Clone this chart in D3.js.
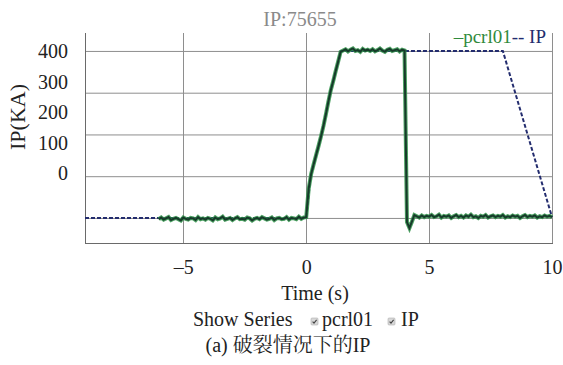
<!DOCTYPE html>
<html>
<head>
<meta charset="utf-8">
<script src="https://cdn.jsdelivr.net/npm/d3@7"></script>
<style>
  html, body { margin: 0; padding: 0; background: #fff; }
  svg { display: block; }
  svg text { font-family: "Liberation Serif", "Noto Serif CJK SC", "Noto Sans CJK SC", serif; }
</style>
</head>
<body>
<svg id="chart" width="563" height="365"></svg>
<script>
// Shot number and series
const shotTitle = "IP:75655";
const seriesNames = ["pcrl01", "IP"];
const seriesColors = ["#2f8a3c", "#232c6e"];

// Measured plasma current pcrl01 (kA), sampled every 0.1 s from -6.0 s to 10.0 s
const pcrlStart = -6.0;
const pcrlStep = 0.1;
const pcrlValues = [
  // -6.0 .. -0.1
  -3, 1, -4, -1, 2, -5, -2, 0, -3, -6,
  1, -2, -4, 0, -1, -5, 2, -3, -1, -4,
  0, -2, -6, 1, -3, -1, 3, -4, -2, 0,
  -5, -1, 2, -3, -2, -4, 1, -1, -6, -2,
  0, -3, 2, -1, -4, -2, 1, -5, -1, 0,
  -3, -2, 2, -4, 0, -1, -3, 3, -2, 1,
  // 0.0 .. 1.4 ramp-up
  2, 70, 105, 128, 150, 172, 195, 220, 248, 278, 306, 328, 352, 375, 398,
  // 1.5 .. 4.0 flat-top
  401, 404, 399, 403, 406, 400, 402, 398, 405, 401,
  403, 400, 404, 399, 402, 406, 401, 398, 403, 405,
  400, 402, 404, 399, 403, 401,
  // 4.1 .. 10.0 after the disruption
  -10, -24, -9, 7, 4, 1, 6, 2, 5, 3,
  7, 2, 4, 8, 1, 5, 3, 6, 0, 4,
  7, 2, 5, 1, 6, 3, 8, 2, 4, 0,
  5, 3, 7, 1, 4, 6, 2, 5, 3, 7,
  1, 4, 2, 6, 3, 5, 0, 4, 7, 2,
  5, 3, 6, 1, 4, 2, 6, 3, 5, 2
];

// Preset plasma current waveform IP (kA)
const ipTimes  = [-9, 0, 0.18, 0.63, 0.97, 1.42, 8.0, 10.0];
const ipValues = [0, 0, 100, 200, 300, 400, 400, 2];

// Axis ticks
const xTicks = [-5, 0, 5, 10];
const yTicks = [0, 100, 200, 300, 400];
const yTickLabels = ["0", "100", "200", "300", "400"];

const xLabel = "Time (s)";
const yLabel = "IP(KA)";
const toggleLabel = "Show Series";
const caption = "(a) 破裂情况下的IP";

const svg = d3.select("#chart");
const plot = { left: 85, right: 552, top: 33, bottom: 243 };

const x = d3.scaleLinear().domain([-9, 10]).range([plot.left, plot.right]);
const y = d3.scaleLinear().domain([-60, 443]).range([plot.bottom, plot.top]);
// tick text sits on its own, tighter scale beside the grid
const yText = d3.scaleLinear().domain([0, 400]).range([173, 51.5]);

// grid
const grid = svg.append("g");
grid.selectAll("line.h").data(yTicks).join("line")
  .attr("x1", plot.left).attr("x2", plot.right)
  .attr("y1", d => y(d) + 0.5).attr("y2", d => y(d) + 0.5)
  .attr("stroke", "#8e8e8e").attr("stroke-width", 1);
grid.selectAll("line.v").data(xTicks.concat([0])).join("line")
  .attr("x1", d => Math.round(x(d)) + 0.5).attr("x2", d => Math.round(x(d)) + 0.5)
  .attr("y1", plot.top).attr("y2", plot.bottom)
  .attr("stroke", "#8e8e8e").attr("stroke-width", 1);

// frame: left and bottom
svg.append("line")
  .attr("x1", plot.left + 0.5).attr("x2", plot.left + 0.5)
  .attr("y1", plot.top).attr("y2", plot.bottom)
  .attr("stroke", "#6a6a6a");
svg.append("line")
  .attr("x1", plot.left).attr("x2", plot.right + 1)
  .attr("y1", plot.bottom + 0.5).attr("y2", plot.bottom + 0.5)
  .attr("stroke", "#6a6a6a");

// y tick labels
const yAxis = d3.axisLeft(yText).tickValues(yTicks)
  .tickFormat((d, i) => yTickLabels[i]).tickSize(0).tickPadding(0);
const yg = svg.append("g").attr("transform", "translate(68,0)").call(yAxis);
yg.select(".domain").remove();
yg.selectAll("text").attr("font-size", 20).attr("fill", "#222");

// x tick labels
const xAxis = d3.axisBottom(x).tickValues(xTicks).tickFormat(d3.format("d"))
  .tickSize(0).tickPadding(0);
const xg = svg.append("g").attr("transform", `translate(0,${plot.bottom + 17})`).call(xAxis);
xg.select(".domain").remove();
xg.selectAll("text").attr("font-size", 20).attr("fill", "#222")
  .text(d => d < 0 ? "\u2013" + Math.abs(d) : d);

// series
const pcrlData = pcrlValues.map((v, i) => [pcrlStart + i * pcrlStep, v]);
const ipData = ipTimes.map((t, i) => [t, ipValues[i]]);
const line = d3.line().x(d => x(d[0])).y(d => y(d[1]));

svg.append("path").datum(ipData).attr("d", line)
  .attr("fill", "none").attr("stroke", seriesColors[1])
  .attr("stroke-width", 2).attr("stroke-dasharray", "4,2");

svg.append("path").datum(pcrlData).attr("d", line)
  .attr("fill", "none").attr("stroke", "#2e9048").attr("stroke-opacity", 0.85)
  .attr("stroke-width", 4);
svg.append("path").datum(pcrlData).attr("d", line)
  .attr("fill", "none").attr("stroke", "#173a2a")
  .attr("stroke-width", 2);

// title
svg.append("text").attr("x", 300).attr("y", 26).attr("text-anchor", "middle")
  .attr("font-size", 20).attr("fill", "#8a8a8a").text(shotTitle);

// legend (top right)
const legend = svg.append("text").attr("x", 546).attr("y", 43)
  .attr("text-anchor", "end").attr("font-size", 19);
legend.append("tspan").attr("fill", seriesColors[0]).text("\u2013" + seriesNames[0]);
legend.append("tspan").attr("fill", seriesColors[1]).text("--\u00a0" + seriesNames[1]);

// axis titles
svg.append("text").attr("transform", "translate(25,117) rotate(-90)")
  .attr("text-anchor", "middle").attr("font-size", 22).attr("fill", "#222").text(yLabel);
svg.append("text").attr("x", 315).attr("y", 300).attr("text-anchor", "middle")
  .attr("font-size", 20).attr("fill", "#222").text(xLabel);

// series toggles
const toggles = svg.append("g");
toggles.append("text").attr("x", 193).attr("y", 326).attr("font-size", 20)
  .attr("fill", "#222").text(toggleLabel);
const boxX = [311, 388];
const labX = [322, 401];
seriesNames.forEach((name, i) => {
  const g = toggles.append("g").attr("transform", `translate(${boxX[i]},318)`);
  g.append("rect").attr("width", 7).attr("height", 7).attr("rx", 1)
    .attr("fill", "#d8d8d8").attr("stroke", "#b0b0b0").attr("stroke-width", 0.6);
  g.append("path").attr("d", "M1.6,3.6 L3,5.2 L5.6,1.8")
    .attr("fill", "none").attr("stroke", "#444").attr("stroke-width", 1.1);
  toggles.append("text").attr("x", labX[i]).attr("y", 326).attr("font-size", 20)
    .attr("fill", "#222").text(name);
});

// caption
svg.append("text").attr("x", 288).attr("y", 352).attr("text-anchor", "middle")
  .attr("font-size", 20).attr("fill", "#222").text(caption);
</script>
</body>
</html>
